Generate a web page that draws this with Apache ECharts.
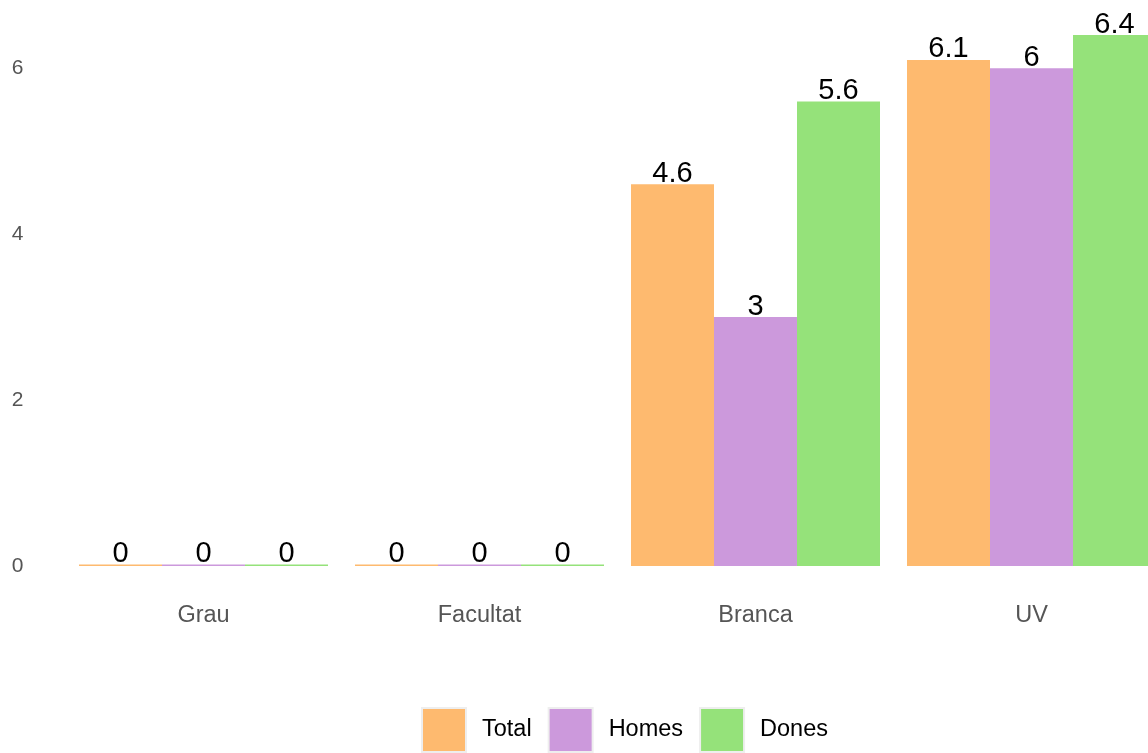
<!DOCTYPE html>
<html>
<head>
<meta charset="utf-8">
<script src="https://cdn.jsdelivr.net/npm/echarts@6/dist/echarts.min.js"></script>
<style>
html,body{margin:0;padding:0;background:#fff;}
#chart{width:1148px;height:753px;}
</style>
</head>
<body>
<div id="chart"></div>
<script>
const categories = ['Grau', 'Facultat', 'Branca', 'UV'];
const seriesNames = ['Total', 'Homes', 'Dones'];
const totalValues = [0, 0, 4.6, 6.1];
const homesValues = [0, 0, 3, 6];
const donesValues = [0, 0, 5.6, 6.4];
const yTicks = [0, 2, 4, 6];

const colors = ['#FEBA6F', '#CC99DC', '#95E27A'];
const font = 'Liberation Sans, Arial, sans-serif';

function makeSeries(name, data, color) {
  return {
    name: name,
    type: 'bar',
    data: data,
    barWidth: 83,
    barGap: '0%',
    barMinHeight: 1.5,
    itemStyle: { color: color },
    label: {
      show: true,
      position: 'top',
      distance: -4,
      color: '#000',
      fontSize: 29,
      fontFamily: font
    }
  };
}

const chart = echarts.init(document.getElementById('chart'));
chart.setOption({
  animation: false,
  backgroundColor: '#fff',
  grid: { left: 65.5, top: 35, width: 1104, height: 531, containLabel: false, outerBoundsMode: 'none' },
  xAxis: {
    type: 'category',
    data: categories,
    axisLine: { show: false },
    axisTick: { show: false },
    axisLabel: { color: '#555', fontSize: 23.5, fontFamily: font, margin: 38 }
  },
  yAxis: {
    type: 'value',
    min: yTicks[0],
    max: 6.4,
    interval: yTicks[1] - yTicks[0],
    splitLine: { show: false },
    axisLine: { show: false },
    axisTick: { show: false },
    axisLabel: { color: '#555', fontSize: 21, fontFamily: font, margin: 42, showMaxLabel: false }
  },
  legend: {
    data: seriesNames,
    top: 702,
    left: 416,
    itemWidth: 44,
    itemHeight: 44,
    itemGap: 16,
    icon: 'rect',
    itemStyle: { borderColor: '#eee', borderWidth: 2 },
    textStyle: { color: '#000', fontSize: 23.5, fontFamily: font, padding: [0, 0, 0, 11] }
  },
  series: [
    makeSeries(seriesNames[0], totalValues, colors[0]),
    makeSeries(seriesNames[1], homesValues, colors[1]),
    makeSeries(seriesNames[2], donesValues, colors[2])
  ]
});
</script>
</body>
</html>
